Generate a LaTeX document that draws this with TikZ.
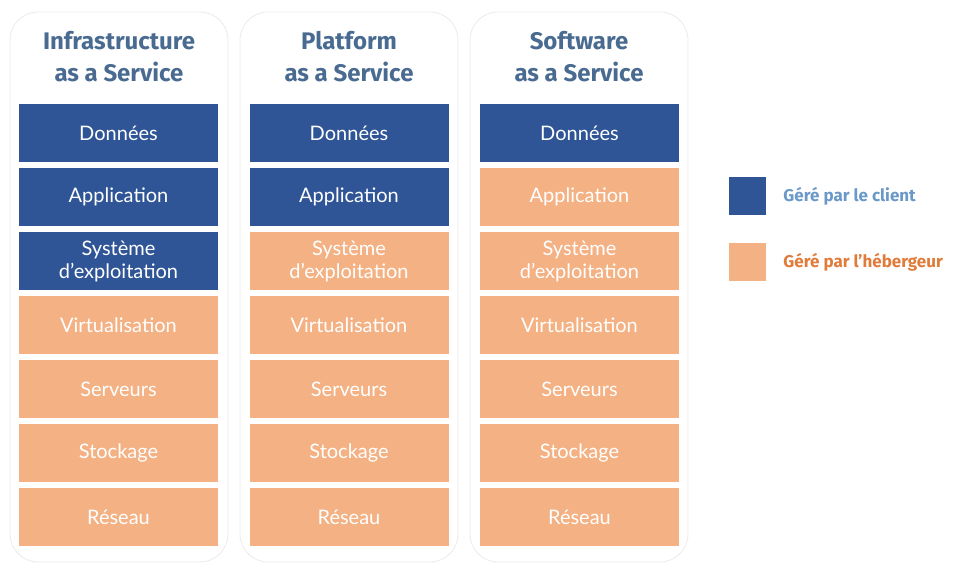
\documentclass[tikz,border=0pt]{standalone}
\usepackage{fontspec}
\setmainfont{Lato}
\newfontfamily\titlefont{Fira Sans}
\usetikzlibrary{positioning}
\definecolor{client}{HTML}{2F5597}
\definecolor{hebergeur}{HTML}{F4B183}
\definecolor{titleblue}{HTML}{4A6B91}
\definecolor{legblue}{HTML}{6A98C8}
\definecolor{legorange}{HTML}{E07B39}
\tikzset{
  card/.style={draw=black!8, fill=white, rounded corners=14pt, minimum width=109pt, minimum height=275pt},
  layer/.style={minimum width=99.5pt, minimum height=29pt, text=white, font=\fontsize{10}{11.5}\selectfont, align=center, inner sep=0pt},
  title/.style={text=titleblue, font=\titlefont\bfseries\fontsize{12}{16}\selectfont, align=center},
  swatch/.style={minimum width=18.5pt, minimum height=19pt, inner sep=0pt},
  legend/.style={font=\titlefont\bfseries\fontsize{8.5}{10}\selectfont, anchor=west}
}
\begin{document}
\begin{tikzpicture}[x=0.5pt, y=-0.5pt]
  \useasboundingbox (0,0) rectangle (955,577);
  % Cards and titles
  \foreach \c/\t in {1/{Infrastructure\\as a Service}, 2/{Platform\\as a Service}, 3/{Software\\as a Service}} {
    \node[card] (card\c) at ({119+230*(\c-1)},287) {};
    \node[title] (title\c) at ({119+230*(\c-1)},57) {\t};
  }
  % Layers
  \foreach \c/\n in {1/3, 2/2, 3/1}
  \foreach \r/\l in {1/Données, 2/Application, 3/{Système\\d’exploitation}, 4/Virtualisation, 5/Serveurs, 6/Stockage, 7/Réseau} {
    \pgfmathsetmacro\fillcol{\r<=\n ? "client" : "hebergeur"}
    \node[layer, fill=\fillcol] (layer\c\r) at ({118.5+230.5*(\c-1)},{133+64*(\r-1)}) {\l};
  }
  % Legend
  \node[swatch, fill=client] (swclient) at (747.5,196.5) {};
  \node[swatch, fill=hebergeur] (swhost) at (747.5,262) {};
  \node[legend, text=legblue, right=5pt of swclient] (legclient) {Géré par le client};
  \node[legend, text=legorange, right=5pt of swhost] (leghost) {Géré par l’hébergeur};
\end{tikzpicture}
\end{document}
